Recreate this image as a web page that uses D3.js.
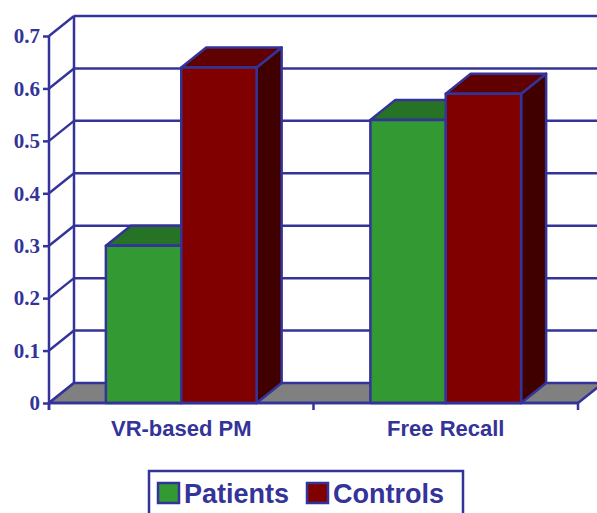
<!DOCTYPE html>
<html>
<head>
<meta charset="utf-8">
<script src="https://cdn.jsdelivr.net/npm/d3@7"></script>
<style>
  html, body { margin: 0; padding: 0; background: #ffffff; }
  svg { display: block; }
</style>
</head>
<body>
<script>
// Chart data
const categories = ["VR-based PM", "Free Recall"];
const seriesNames = ["Patients", "Controls"];
const patients = [0.30, 0.54];
const controls = [0.64, 0.59];
const yTicks = [0, 0.1, 0.2, 0.3, 0.4, 0.5, 0.6, 0.7];
const yTickLabels = ["0", "0.1", "0.2", "0.3", "0.4", "0.5", "0.6", "0.7"];

const W = 597, H = 513;
const ink = "#333399";
const sw = 2.5;
const depthX = 25, depthY = -20;   // oblique offset of the back wall

const colors = {
  Patients: { front: "#339933", top: "#267326", side: "#1d591d" },
  Controls: { front: "#800000", top: "#600000", side: "#400000" }
};

const svg = d3.select("body").append("svg")
  .attr("width", W).attr("height", H);

const x0 = 49, x1 = 578;
const y = d3.scaleLinear().domain([0, 0.7]).range([403, 36]);
const x = d3.scaleBand().domain(categories).range([x0, x1])
  .paddingInner(0.43).paddingOuter(0.215);
const xs = d3.scaleBand().domain(seriesNames).range([0, x.bandwidth()]).padding(0);

const rows = categories.map((c, i) => ({ cat: c, Patients: patients[i], Controls: controls[i] }));

// Back wall: vertical edge, gridlines, and oblique connectors to the front axis
const wall = svg.append("g").attr("stroke", ink).attr("stroke-width", sw).attr("fill", "none");
wall.append("line")
  .attr("x1", x0 + depthX).attr("x2", x0 + depthX)
  .attr("y1", y(0) + depthY).attr("y2", y(0.7) + depthY);
yTicks.forEach(t => {
  if (t > 0) {
    wall.append("line")
      .attr("x1", x0 + depthX).attr("x2", W + 10)
      .attr("y1", y(t) + depthY).attr("y2", y(t) + depthY);
  }
  wall.append("line")
    .attr("x1", x0).attr("y1", y(t))
    .attr("x2", x0 + depthX).attr("y2", y(t) + depthY);
});

// Floor
svg.append("path")
  .attr("d", `M${x0},${y(0)} L${x1},${y(0)} L${x1 + depthX},${y(0) + depthY} L${x0 + depthX},${y(0) + depthY} Z`)
  .attr("fill", "#808080").attr("stroke", ink).attr("stroke-width", sw)
  .attr("stroke-linejoin", "round");

// Bars drawn as oblique boxes
const barsG = svg.append("g").attr("stroke", ink).attr("stroke-width", sw).attr("stroke-linejoin", "round");
rows.forEach(r => {
  seriesNames.forEach(s => {
    const bx = x(r.cat) + xs(s);
    const bw = xs.bandwidth();
    const yt = y(r[s]);
    const yb = y(0);
    const c = colors[s];
    // side face
    barsG.append("path")
      .attr("d", `M${bx + bw},${yt} L${bx + bw + depthX},${yt + depthY} L${bx + bw + depthX},${yb + depthY} L${bx + bw},${yb} Z`)
      .attr("fill", c.side);
    // top face
    barsG.append("path")
      .attr("d", `M${bx},${yt} L${bx + depthX},${yt + depthY} L${bx + bw + depthX},${yt + depthY} L${bx + bw},${yt} Z`)
      .attr("fill", c.top);
    // front face
    barsG.append("rect")
      .attr("x", bx).attr("y", yt)
      .attr("width", bw).attr("height", yb - yt)
      .attr("fill", c.front);
  });
});

// Front value axis
const yAxis = d3.axisLeft(y).tickValues(yTicks)
  .tickFormat((d, i) => yTickLabels[i]).tickSize(6).tickPadding(3);
const ya = svg.append("g").attr("transform", `translate(${x0},0)`).call(yAxis);
ya.select(".domain").attr("stroke", ink).attr("stroke-width", sw)
  .attr("d", `M0,${y(0) + 7}V${y(0.7)}`);
ya.selectAll(".tick line").attr("stroke", ink).attr("stroke-width", sw);
ya.selectAll(".tick text")
  .attr("fill", ink)
  .attr("font-family", "'Liberation Serif', 'Times New Roman', serif")
  .attr("font-weight", "bold")
  .attr("font-size", 21);

// Category axis along the front floor edge
const xAxisG = svg.append("g").attr("stroke", ink).attr("stroke-width", sw);
xAxisG.append("line").attr("x1", x0).attr("x2", x1).attr("y1", y(0)).attr("y2", y(0));
const boundaries = [x0].concat(categories.map(c => x(c) + x.bandwidth() + x.step() * x.paddingInner() / 2));
boundaries[boundaries.length - 1] = x1;
boundaries.forEach(bx => {
  xAxisG.append("line").attr("x1", bx).attr("x2", bx).attr("y1", y(0)).attr("y2", y(0) + 7);
});
svg.append("g").selectAll("text").data(categories).join("text")
  .attr("x", d => x(d) + x.bandwidth() / 2)
  .attr("y", 436)
  .attr("text-anchor", "middle")
  .attr("fill", ink)
  .attr("font-family", "'Liberation Sans', Arial, sans-serif")
  .attr("font-weight", "bold")
  .attr("font-size", 22)
  .text(d => d);

// Legend
const lg = svg.append("g");
lg.append("rect").attr("x", 149).attr("y", 471).attr("width", 314).attr("height", 60)
  .attr("fill", "#ffffff").attr("stroke", ink).attr("stroke-width", sw);
const legendX = [158, 307];
seriesNames.forEach((s, i) => {
  lg.append("rect").attr("x", legendX[i]).attr("y", 483).attr("width", 21).attr("height", 20)
    .attr("fill", colors[s].front).attr("stroke", ink).attr("stroke-width", sw);
  lg.append("text").attr("x", legendX[i] + 26).attr("y", 503)
    .attr("fill", ink)
    .attr("font-family", "'Liberation Sans', Arial, sans-serif")
    .attr("font-weight", "bold")
    .attr("font-size", 27)
    .text(s);
});
</script>
</body>
</html>
